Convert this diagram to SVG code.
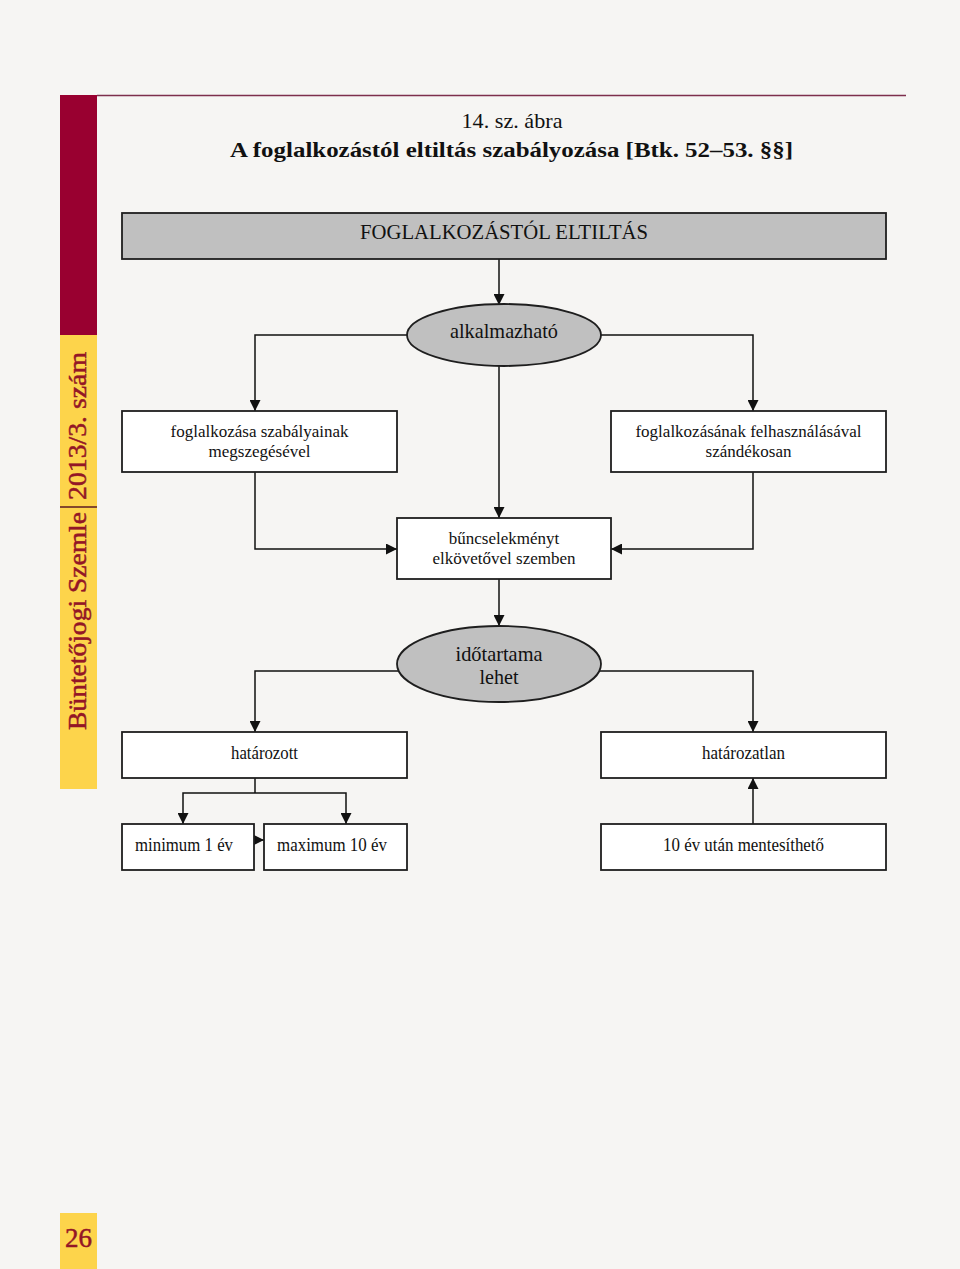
<svg xmlns="http://www.w3.org/2000/svg" width="960" height="1269" viewBox="0 0 960 1269">
<style>
.bg{fill:#f6f5f3}
.box{fill:#ffffff;stroke:#1e1e1e;stroke-width:1.8}
.gbox{fill:#c0c0c0;stroke:#1e1e1e;stroke-width:1.8}
.t{font-family:"Liberation Serif","Times New Roman",serif;fill:#111;text-anchor:middle}
.tl{font-family:"Liberation Serif","Times New Roman",serif;fill:#111}
.side{font-family:"Liberation Serif","Times New Roman",serif;fill:#931626;stroke:#931626;stroke-width:0.5}
.con{fill:none;stroke:#111;stroke-width:1.5}
</style>
<defs>
<marker id="arr" markerUnits="userSpaceOnUse" markerWidth="11" markerHeight="11" refX="10" refY="5" orient="auto" viewBox="0 0 10 10">
<path d="M0,0 L10,5 L0,10 z" fill="#111"/>
</marker>
</defs>
<rect class="bg" x="0" y="0" width="960" height="1269"/>

<g id="sidebar">
<rect x="60" y="95" width="37" height="240" fill="#990030"/>
<rect x="60" y="335" width="37" height="454" fill="#fdd44b"/>
<line x1="97" y1="95.5" x2="906" y2="95.5" stroke="#7d2f4c" stroke-width="1.6"/>
<line x1="60" y1="507" x2="97" y2="507" stroke="#5a1a20" stroke-width="1.5"/>
<text class="side" transform="translate(86,730) rotate(-90)" font-size="26" textLength="218" lengthAdjust="spacingAndGlyphs">Büntetőjogi Szemle</text>
<text class="side" transform="translate(86,500) rotate(-90)" font-size="26" textLength="148" lengthAdjust="spacingAndGlyphs">2013/3. szám</text>
<rect x="60" y="1213" width="37" height="56" fill="#fdd44b"/>
<text class="side" x="78.5" y="1247" font-size="27" text-anchor="middle">26</text>
</g>

<g id="title">
<text class="t" x="512" y="128" font-size="21" textLength="101" lengthAdjust="spacingAndGlyphs">14. sz. ábra</text>
<text class="t" x="511.5" y="157" font-size="21" font-weight="bold" textLength="563" lengthAdjust="spacingAndGlyphs">A foglalkozástól eltiltás szabályozása [Btk. 52–53. §§]</text>
</g>

<g id="connectors">
<path class="con" d="M499,259 V305" marker-end="url(#arr)"/>
<path class="con" d="M407,335 H255 V411" marker-end="url(#arr)"/>
<path class="con" d="M601,335 H753 V411" marker-end="url(#arr)"/>
<path class="con" d="M499,366 V518" marker-end="url(#arr)"/>
<path class="con" d="M255,472 V549 H397" marker-end="url(#arr)"/>
<path class="con" d="M753,472 V549 H611" marker-end="url(#arr)"/>
<path class="con" d="M499,579 V626" marker-end="url(#arr)"/>
<path class="con" d="M399,671 H255 V732" marker-end="url(#arr)"/>
<path class="con" d="M600,671 H753 V732" marker-end="url(#arr)"/>
<path class="con" d="M255,778 V793"/>
<path class="con" d="M255,793 H183 V824" marker-end="url(#arr)"/>
<path class="con" d="M255,793 H346 V824" marker-end="url(#arr)"/>
<path class="con" d="M254,840 H264" marker-end="url(#arr)"/>
<path class="con" d="M753,824 V778" marker-end="url(#arr)"/>
</g>

<g id="n-foglalkozastol">
<rect class="gbox" x="122" y="213" width="764" height="46"/>
<text class="t" x="504" y="239" font-size="22" textLength="288" lengthAdjust="spacingAndGlyphs">FOGLALKOZÁSTÓL ELTILTÁS</text>
</g>

<g id="n-alkalmazhato">
<ellipse class="gbox" cx="504" cy="335" rx="97" ry="31"/>
<text class="t" x="504" y="338" font-size="21" textLength="108" lengthAdjust="spacingAndGlyphs">alkalmazható</text>
</g>

<g id="n-szabalyainak">
<rect class="box" x="122" y="411" width="275" height="61"/>
<text class="t" x="259.5" y="437" font-size="17">foglalkozása szabályainak</text>
<text class="t" x="259.5" y="457" font-size="17">megszegésével</text>
</g>

<g id="n-felhasznalasaval">
<rect class="box" x="611" y="411" width="275" height="61"/>
<text class="t" x="748.5" y="437" font-size="17">foglalkozásának felhasználásával</text>
<text class="t" x="748.5" y="457" font-size="17">szándékosan</text>
</g>

<g id="n-buncselekmenyt">
<rect class="box" x="397" y="518" width="214" height="61"/>
<text class="t" x="504" y="544" font-size="17">bűncselekményt</text>
<text class="t" x="504" y="564" font-size="17">elkövetővel szemben</text>
</g>

<g id="n-idotartama">
<ellipse class="gbox" cx="499" cy="664" rx="102" ry="38"/>
<text class="t" x="499" y="661" font-size="21" textLength="87" lengthAdjust="spacingAndGlyphs">időtartama</text>
<text class="t" x="499" y="684" font-size="21" textLength="39" lengthAdjust="spacingAndGlyphs">lehet</text>
</g>

<g id="n-hatarozott">
<rect class="box" x="122" y="732" width="285" height="46"/>
<text class="t" x="264.5" y="759" font-size="19" textLength="67" lengthAdjust="spacingAndGlyphs">határozott</text>
</g>

<g id="n-hatarozatlan">
<rect class="box" x="601" y="732" width="285" height="46"/>
<text class="t" x="743.5" y="759" font-size="19" textLength="83" lengthAdjust="spacingAndGlyphs">határozatlan</text>
</g>

<g id="n-minimum">
<rect class="box" x="122" y="824" width="132" height="46"/>
<text class="tl" x="135" y="851" font-size="19" textLength="98" lengthAdjust="spacingAndGlyphs">minimum 1 év</text>
</g>

<g id="n-maximum">
<rect class="box" x="264" y="824" width="143" height="46"/>
<text class="tl" x="277" y="851" font-size="19" textLength="110" lengthAdjust="spacingAndGlyphs">maximum 10 év</text>
</g>

<g id="n-mentesitheto">
<rect class="box" x="601" y="824" width="285" height="46"/>
<text class="t" x="743.5" y="851" font-size="19" textLength="161" lengthAdjust="spacingAndGlyphs">10 év után mentesíthető</text>
</g>
</svg>
